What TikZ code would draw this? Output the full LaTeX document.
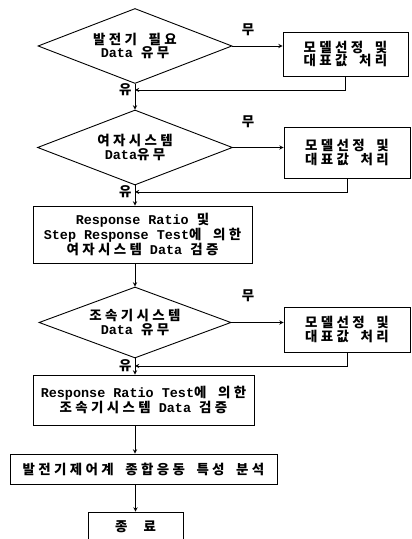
\documentclass[tikz,border=0pt]{standalone}
\usepackage{fontspec}
\setmainfont{Liberation Mono}
\newfontfamily\hangul[LetterSpace=25,WordSpace=1.8]{Noto Sans CJK KR}
\newcommand{\kor}[1]{{\hangul #1}}
\usetikzlibrary{shapes.geometric}

\begin{document}
\begin{tikzpicture}[x=1bp,y=1bp,line width=0.9bp,>=stealth,
  font=\bfseries\fontsize{13.5}{13.8}\selectfont,
  dia/.style={draw,diamond,aspect=2.6,inner sep=0pt,align=center},
  box/.style={draw,rectangle,inner sep=2bp,align=center},
  lbl/.style={inner sep=1bp}]
\useasboundingbox (0,0) rectangle (411,539);
% first check
\node[dia,minimum width=194bp,minimum height=75bp] (d1) at (135,493) {\kor{발전기 필요}\\Data \kor{유무}};
\node[box,minimum width=125bp,minimum height=44bp] (b1) at (345.5,485) {\kor{모델선정 및}\\\kor{대표값 처리}};
\coordinate (j1) at (135,449);
\node[lbl] (n1) at (248,509) {\kor{무}};
\node[lbl,left=2bp] (y1) at (j1) {\kor{유}};
% second check
\node[dia,minimum width=195bp,minimum height=75bp] (d2) at (135,391.5) {\kor{여자시스템}\\Data\kor{유무}};
\node[box,minimum width=126bp,minimum height=51bp] (b2) at (347,386.5) {\kor{모델선정 및}\\\kor{대표값 처리}};
\coordinate (j2) at (135,347);
\node[lbl] (n2) at (248,417) {\kor{무}};
\node[lbl,left=2bp] (y2) at (j2) {\kor{유}};
\node[box,minimum width=219bp,minimum height=57bp] (b3) at (142.5,304.5) {Response Ratio \kor{및}\\Step Response Test\kor{에 의한}\\\kor{여자시스템} Data \kor{검증}};
% third check
\node[dia,minimum width=192bp,minimum height=71bp] (d3) at (135,216.5) {\kor{조속기시스템}\\Data \kor{유무}};
\node[box,minimum width=126bp,minimum height=45bp] (b4) at (347,209.5) {\kor{모델선정 및}\\\kor{대표값 처리}};
\coordinate (j3) at (135,173);
\node[lbl] (n3) at (248,243) {\kor{무}};
\node[lbl,left=2bp] (y3) at (j3) {\kor{유}};
\node[box,minimum width=221bp,minimum height=50bp] (b5) at (143.5,139) {Response Ratio Test\kor{에 의한}\\\kor{조속기시스템} Data \kor{검증}};
\node[box,minimum width=267bp,minimum height=30bp] (b6) at (143.5,70) {\kor{발전기제어계 종합응동 특성 분석}};
\node[box,minimum width=95bp,minimum height=30bp] (b7) at (135.5,12) {\kor{종\hspace{1.2em}료}};
% connectors
\draw[->] (d1.east) -- (d1.east -| b1.west);
\draw[->] (b1.south) |- (j1);
\draw[->] (d1.south) -- (d2.north);
\draw[->] (d2.east) -- (d2.east -| b2.west);
\draw[->] (b2.south) |- (j2);
\draw[->] (d2.south) -- (d2.south |- b3.north);
\draw[->] (d3.north |- b3.south) -- (d3.north);
\draw[->] (d3.east) -- (d3.east -| b4.west);
\draw[->] (b4.south) |- (j3);
\draw[->] (d3.south) -- (d3.south |- b5.north);
\draw[->] (d3.south |- b5.south) -- (d3.south |- b6.north);
\draw[->] (b7.north |- b6.south) -- (b7.north);
\end{tikzpicture}
\end{document}
